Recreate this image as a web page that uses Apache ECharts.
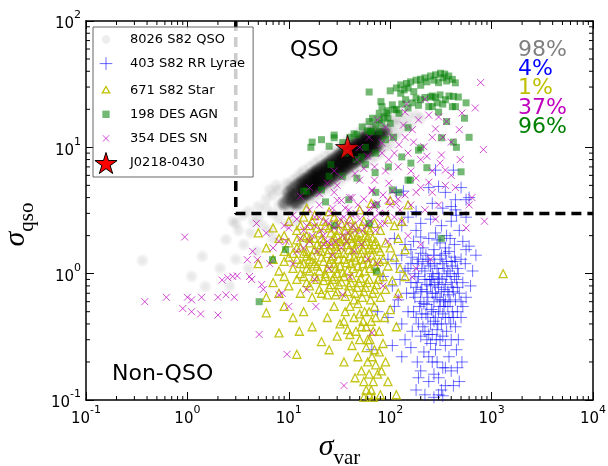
<!DOCTYPE html>
<html>
<head>
<meta charset="utf-8">
<script src="https://cdn.jsdelivr.net/npm/echarts@6/dist/echarts.min.js"></script>
<style>
html, body { margin: 0; padding: 0; background: #fff; }
#main { width: 608px; height: 466px; }
</style>
</head>
<body>
<div id="main"></div>
<script>
// sigma_var (x) / sigma_qso (y)
var qsoCore = [
    [9,3.6],[10,3.9],[10,4.4],[11,3.7],[11,4.1],[11,4.7],[12,3.6],[12,4.3],[12,5.0],[13,4.0],[13,4.5],[13,5.2],
    [14,4.0],[14,4.7],[14,5.5],[15,4.3],[15,4.85],[15,5.6],[16,4.3],[16,5.0],[16,5.9],[17,4.6],[17,5.2],[17,6.1],
    [18,4.6],[18,5.4],[18,6.3],[19,4.9],[19,5.55],[19,6.5],[20,4.9],[20,5.7],[20,6.7],[21.5,5.1],[21.5,5.95],[21.5,7.0],
    [23,5.3],[23,6.2],[23,7.2],[24.5,5.5],[24.5,6.4],[24.5,7.5],[26,5.6],[26,6.6],[26,7.8],[28,5.9],[28,6.9],[28,8.1],
    [30,6.1],[30,7.2],[30,8.4],[32,6.4],[32,7.5],[32,8.8],[34,6.6],[34,7.7],[34,9.1],[36,6.8],[36,8.0],[36,9.4],
    [38,7.0],[38,8.3],[38,9.7],[40.5,7.3],[40.5,8.55],[40.5,10],[43,7.5],[43,8.9],[43,10.4],[45.5,7.8],[45.5,9.1],[45.5,10.7],
    [48,8.0],[48,9.4],[48,11],[51,8.3],[51,9.8],[51,11.4],[54,8.6],[54,10.1],[54,11.8],[57,8.9],[57,10.4],[57,12.2],
    [60,9.1],[60,10.7],[60,12.5],[64,9.5],[64,11.1],[68,9.8],[68,11.5],[68,13.5],[72,10.1],[72,11.85],[76,10.4],[76,12.2],
    [80,12.6],[85,13],[90,13.4],
    [14,4.35],[14,5.1],[16,4.65],[16,5.45],[18,5.0],[18,5.85],[20,5.3],[20,6.2],[23,5.75],[23,6.7],[26,6.15],[26,7.2],
    [30,6.7],[30,7.8],[34,7.2],[34,8.35],[38,7.7],[38,8.95],[43,8.25],[43,9.6],[48,8.75],[48,10.2],[54,9.4],[54,10.9],
    [60,9.95],[60,11.6],[68,10.7],[68,12.4]
];
var qsoHalo = [
    [3,2.5],[3.5,2.9],[4,3.1],[4.5,2.6],[5,3.4],[5,2.8],[6,3.3],[6,3.9],[7,3.0],[7,4.2],[8,3.5],[8,4.6],[9,3.2],[9,4.1],
    [10,3.3],[10,5.0],[11,3.4],[11,5.5],[12,3.3],[12,5.8],[13,3.6],[13,6.2],[14,3.5],[14,6.6],[16,3.8],[16,7.0],[18,4.0],
    [18,7.5],[20,4.3],[20,8.0],[22,4.5],[23,8.6],[25,4.8],[26,9.2],[28,5.0],[30,9.8],[32,5.4],[34,10.5],[36,5.8],[38,11.5],
    [40,6.0],[43,12.2],[45,6.5],[48,13],[50,7],[54,14],[57,7.4],[60,15],[65,8],[68,15.5],[72,8.5],[76,16.5],[80,9],[85,17.5],
    [90,10],[95,18],[100,10.5],[105,16],[110,12],[115,17],[120,13],[130,16],[140,14.5],[150,17.5],[160,15],[180,18],
    [200,17],[125,19],[9.5,5.2],[7.5,5],[6.5,4.6],[95,12],[100,14],[110,15],[85,11],
    [0.36,1.27],[1.4,1.37],[1.5,0.79],[2.4,1.86],[2.8,2.6],[3.2,2.2],[3.6,1.7],[4.2,2.1],[4.8,1.5],[3,1.3],[2.1,1.1],
    [1.1,0.95],[5.5,2.4],[6.5,2.2],[7,1.9],[2.6,0.8],[4,1.1],[8,2.7],[10,2.5],[12,2.6]
];
var rrLyrae = [
    [280,6.6],[420,6.6],[240,4.8],[300,4.9],[350,4.4],[500,4.8],[440,3.85],[400,3.4],[560,3.85],[135,4.5],[115,4.4],[180,3.1],
    [600,4],[440,3.2],[260,3.6],[330,3.3],
    [150,2.8],[200,2.5],[250,2.7],[320,2.4],[400,2.6],[480,2.2],[560,2.8],[180,2.2],[280,2.1],[360,2.0],[450,2.9],[130,2.4],
    [110,1.9],[140,1.7],[170,1.8],[210,1.6],[240,1.9],[270,1.55],[310,1.75],[350,1.6],[390,1.9],[430,1.7],[520,1.8],[560,1.55],
    [600,1.65],[160,1.55],[200,1.95],[290,1.85],
    [95,1.3],[115,1.2],[130,1.4],[150,1.1],[165,1.35],[185,1.2],[200,1.45],[220,1.05],[235,1.3],[250,1.15],[270,1.4],[290,1.1],
    [310,1.3],[330,1.2],[350,1.45],[370,1.05],[400,1.25],[430,1.35],[460,1.1],[500,1.3],[550,1.2],[650,1.05],[700,1.4],[140,1.05],
    [260,1.0],[380,1.5],[210,1.25],
    [85,0.95],[105,0.8],[125,0.9],[145,0.7],[160,0.85],[175,0.65],[190,0.95],[205,0.75],[220,0.9],[235,0.65],[250,0.8],[265,0.95],
    [280,0.7],[295,0.85],[310,0.62],[325,0.9],[340,0.75],[360,0.95],[380,0.68],[400,0.85],[420,0.72],[450,0.9],[480,0.7],[520,0.85],
    [560,0.65],[620,0.8],[120,0.62],[200,0.6],[270,0.6],[350,0.6],[440,0.62],[230,0.82],[300,0.78],[180,0.78],
    [75,0.5],[95,0.45],[110,0.55],[130,0.4],[150,0.5],[165,0.35],[180,0.45],[195,0.55],[210,0.38],[225,0.48],[240,0.33],[255,0.52],
    [270,0.42],[285,0.3],[300,0.5],[320,0.4],[340,0.55],[360,0.35],[380,0.45],[410,0.5],[440,0.38],[470,0.3],[500,0.45],[140,0.3],
    [230,0.57],[330,0.32],[290,0.36],[200,0.32],[66,0.25],
    [105,0.27],[130,0.22],[160,0.26],[185,0.2],[200,0.17],[215,0.24],[240,0.14],[260,0.2],[280,0.25],[300,0.15],[320,0.12],
    [350,0.18],[380,0.22],[420,0.13],[480,0.14],[510,0.2],[180,0.12],[220,0.11],[270,0.105],[330,0.108],[450,0.25],[250,0.28],
    [300,0.11],[190,0.15],
    [160,1.2],[175,1.0],[190,1.3],[205,1.1],[225,1.4],[240,1.2],[255,0.9],[275,1.2],[300,1.0],[320,1.4],[340,1.1],[360,1.25],
    [390,1.0],[410,1.15],[440,1.25],[470,1.0],
    [170,0.7],[185,0.85],[200,0.72],[215,0.58],[230,0.72],[245,0.9],[260,0.7],[275,0.82],[290,0.65],[305,0.92],[320,0.72],
    [335,0.62],[350,0.82],[370,0.72],[390,0.6],[410,0.78],[430,0.95],[460,0.78],[500,0.6],
    [170,0.5],[190,0.4],[205,0.48],[220,0.35],[235,0.45],[250,0.4],[265,0.5],[280,0.45],[295,0.4],[310,0.55],[330,0.48],
    [350,0.45],[370,0.55],[395,0.4],[420,0.45],[460,0.5],[520,0.55],
    [230,0.3],[260,0.33],[310,0.3],[350,0.27],[400,0.3],[240,0.22],[290,0.2],[330,0.18],[400,0.17],[270,0.16],[350,0.13],[460,0.18]
];
var s82Star = [
    [15,3.3],[25,3.1],[50,3.2],[65,3.6],[100,3.8],[150,3.5],
    [10,2.6],[12,2.2],[14,2.8],[16,2.4],[18,2.9],[20,2.1],[22,2.6],[25,2.3],[28,2.8],[30,2.0],[33,2.5],[36,2.2],[40,2.7],[45,2.4],
    [50,2.1],[55,2.6],[60,2.3],[70,2.5],[80,2.2],[95,2.7],[110,2.4],[130,2.6],[7,2.3],[5,2.1],[9,2.0],[42,2.0],
    [6,1.6],[8,1.9],[9,1.5],[10,1.75],[11,1.45],[12,1.85],[13,1.6],[14,1.95],[15,1.5],[16,1.75],[17,1.4],[18,1.9],[20,1.6],
    [22,1.8],[24,1.45],[26,1.7],[28,1.95],[30,1.55],[32,1.8],[35,1.45],[38,1.7],[41,1.9],[44,1.55],[48,1.8],[52,1.45],[56,1.7],
    [60,1.95],[66,1.55],[72,1.8],[80,1.5],[90,1.75],[100,1.6],[120,1.9],[140,1.55],
    [5,1.2],[7,1.3],[8,1.05],[9,1.25],[10,1.35],[11,1.1],[12,1.3],[13,1.0],[14,1.2],[15,1.38],[16,1.05],[17,1.25],[19,1.15],
    [21,1.35],[23,1.0],[25,1.2],[27,1.38],[29,1.1],[31,1.3],[34,1.02],[37,1.22],[40,1.38],[43,1.1],[46,1.28],[50,1.02],[54,1.2],
    [58,1.35],[63,1.1],[68,1.25],[75,1.05],[85,1.3],[95,1.15],[110,1.35],[125,1.1],[1300,1.0],
    [6,0.65],[7,0.85],[8,0.7],[9,0.95],[10,0.8],[12,0.9],[13,0.7],[15,0.85],[17,0.65],[18,0.95],[20,0.75],[22,0.88],[24,0.68],
    [26,0.82],[28,0.95],[30,0.72],[33,0.86],[36,0.66],[39,0.8],[42,0.93],[45,0.7],[49,0.85],[53,0.65],[57,0.78],[62,0.9],
    [67,0.7],[73,0.82],[80,0.65],[90,0.75],[105,0.88],[120,0.7],[140,0.95],[85,0.95],
    [6,0.49],[8,0.34],[9,0.55],[11,0.45],[12.7,0.35],[14,0.5],[17,0.38],[21,0.29],[24,0.45],[28,0.55],[32,0.4],[36,0.5],[40,0.33],
    [44,0.45],[48,0.58],[52,0.38],[56,0.5],[60,0.3],[65,0.42],[70,0.55],[78,0.35],[88,0.45],[100,0.52],[115,0.38],[40,0.55],[30,0.32],
    [12,0.23],[25,0.25],[35,0.2],[42,0.27],[48,0.22],[52,0.17],[55,0.14],[60,0.2],[65,0.12],[70,0.25],[75,0.16],[80,0.11],
    [55,0.105],[62,0.11],[68,0.105],[115,0.11],[90,0.2],[95,0.14],[45,0.15],[85,0.28],
    [13,2.4],[15,2.0],[17,2.6],[19,2.3],[21,1.9],[23,2.4],[26,2.1],[29,2.5],[31,2.2],[34,1.9],[37,2.4],[39,2.0],[43,2.3],
    [47,1.95],[52,2.35],[57,2.0],[63,2.2],[67,1.9],
    [12,1.6],[14,1.45],[16,1.9],[18,1.55],[19,1.7],[21,1.5],[23,1.7],[25,1.55],[27,1.8],[29,1.65],[31,1.45],[33,1.7],[36,1.85],
    [39,1.55],[42,1.75],[46,1.6],[50,1.85],[54,1.55],[58,1.8],[62,1.6],[69,1.7],[76,1.6],
    [13,1.2],[15,1.1],[16,1.3],[18,1.2],[20,1.05],[22,1.25],[24,1.1],[26,1.3],[28,1.2],[30,1.0],[32,1.15],[35,1.3],[38,1.05],
    [41,1.2],[44,1.35],[48,1.15],[52,1.3],[56,1.05],[61,1.2],[66,1.4],[71,1.15],[78,1.25],
    [14,0.95],[16,0.8],[19,0.9],[21,0.7],[23,0.95],[25,0.78],[27,0.9],[29,0.68],[31,0.82],[35,0.95],[38,0.72],[41,0.85],[44,0.62],
    [47,0.78],[51,0.92],[55,0.72],[59,0.85],[64,0.62],[70,0.75],[76,0.9],
    [35,0.42],[38,0.36],[46,0.35],[50,0.48],[54,0.42],[58,0.38],[62,0.5],[68,0.35],[72,0.45],[50,0.3],[58,0.26],[63,0.3],
    [66,0.22],[72,0.19],[78,0.24],[82,0.17],[62,0.16],[68,0.14],[58,0.12]
];
var desAgn = [
    [62,27.4],[81,23],[100,28],[127,31.2],[137,28.5],[127,26.8],[145,32],[159,33],[171,27.6],[180,34],[199,34.6],[220,35.5],
    [250,36.7],[280,37.5],[313,38.6],[345,38],[378,36.7],[410,34.5],[439,32.4],[230,33],[270,34],[330,35.5],[150,29.5],[200,31],
    [300,32.5],[360,33.5],[115,29.5],
    [62,16],[78,18.6],[83,15.5],[95,19.5],[105,21.7],[122,18.6],[130,22],[142,23.8],[164,22.5],[180,24.5],[199,23.8],[220,24.8],
    [240,21],[260,25.5],[280,24.9],[310,26],[350,23.8],[380,25.5],[420,25.3],[440,21],[110,20],[150,20.5],[190,21.5],[290,22.5],
    [95,17],[330,22],
    [17,11],[16.5,10],[21,11.5],[25,10.2],[28,11.9],[28,12.5],[34,10.9],[36,9],[40,12],[44,12.8],[47,12.6],[46,8],[53,14.5],
    [57,10],[60,13.5],[64,13.3],[67,17],[66,13.3],[72,9],[72,15],[78,16.5],[78,13.3],[83,21],[87,17.4],[90,11.5],[92,18.7],
    [108,12],[115,19.8],[100,15.5],[150,14.3],[190,9.5],[200,9.9],[260,21],[300,19],[320,11.9],[420,11],[450,10],[500,6.4],
    [600,12],[540,17],[410,21],[360,16],[470,25],[560,22.5],[250,25],
    [26,7.3],[25,5.9],[34,5.9],[21,4.6],[15,4.5],[14,4.5],[23,3.7],[39,3.85],[47,5.7],[52,8.4],[57,7.3],[71,6.3],[96,7],
    [130,8.4],[160,7.5],[158,5.5],[230,6.9],[150,5.5],[105,4.6],[72,4.4],[122,4.4],[73,3.5],
    [9.3,1.55],[6.9,1.29],[5.1,0.6],[73,1.05],[62,2.5],[28,2.4],[320,1.9]
];
var desSn = [
    [0.38,0.6],[0.62,0.65],[0.94,1.95],[1.0,0.65],[1.1,0.62],[1.38,0.65],[0.9,0.53],[1.1,0.5],[1.35,0.48],[2.0,0.47],[2.0,0.65],
    [2.4,0.68],[2.9,0.65],[2.2,0.89],[2.5,0.93],[2.8,0.95],[3.1,0.96],[4.1,0.95],[4.3,0.9],[3.9,1.29],[4.9,1.29],[5.1,0.33],
    [9.6,0.23],[35,0.13],[5.4,0.82],[5.6,0.75],[8,0.68],[8.6,0.7],[4.8,2.5],[4.4,1.5],[6,2.1],[8,1.8],[9.4,1.8],[7,1.6],
    [6.5,1.2],[10,0.55],
    [10,2.3],[12,2.7],[13,1.9],[15,2.4],[16,3.2],[17,2.0],[18,2.8],[20,3.5],[21,2.2],[23,2.6],[24,1.8],[26,3.0],[28,2.3],[30,3.8],
    [32,2.7],[34,2.0],[36,3.3],[38,2.5],[40,4.0],[42,2.9],[45,2.2],[48,3.5],[50,2.7],[55,3.9],[58,2.4],[62,3.2],[66,4.5],[70,2.8],
    [75,3.6],[80,2.5],[85,4.2],[90,3.0],[100,3.5],[110,2.8],[120,3.9],[130,2.6],[14,1.6],[19,1.5],[22,1.7],[27,1.4],[33,1.6],
    [44,1.5],[52,1.7],[60,1.3],[11,1.2],[25,1.1],[18,0.9],[40,0.95],[34,0.68],[18.5,0.55],[66,0.34],[165,0.94],[180,1.1],
    [280,2.7],[560,2.3],[850,2.6],[150,2.0],[200,1.7],[250,1.3],[95,1.8],[75,1.2],[85,0.8],[120,0.65],[15,0.75],[13,4.1],
    [16,4.8],[24,5.2],[28,6.5],[20,4.3],[33,5.8],
    [780,32.6],[690,20.5],[510,18.7],[830,9.6],[480,13.8],[360,16],[300,17.4],[240,18],[190,16.5],[140,19],[135,15],[165,13.8],
    [140,12],[122,10.5],[215,10.1],[320,8.7],[310,7.5],[350,6.6],[400,6],[240,5.3],[180,5.7],[180,4.4],[260,4.4],[97,5.2],
    [120,7],[97,8],[83,9],[83,10.8],[105,12],[90,14.5],[62,12],[50,10],[47,8],[50,5.5],[42,4],[33,3.8],[66,4.6],[115,3.6],
    [70,3.4],[640,4.0],[490,8],[200,8],[440,4.8],[600,3.5],[160,6.5],[260,12],[110,9],[70,7],[38,9.5],[30,5],[60,8.5],[28,4.4],
    [145,22],[280,14],[400,11],[220,24],[75,16.5],
    [11,2.9],[14,2.2],[16,1.8],[18,2.4],[20,2.8],[22,2.0],[25,2.5],[27,3.3],[29,1.8],[31,2.4],[35,2.8],[37,1.8],[39,3.2],[43,2.4],
    [46,3.0],[53,2.2],[57,3.0],[64,2.6],[68,3.5],[72,2.2],[78,3.0],[88,2.5],[95,3.8],[105,4.5],[125,3.2],[140,4.2],[160,3.5],
    [200,4.8],[220,3.2],[300,3.5],[350,5],[150,9],[230,8.5],[170,11],[330,12],[260,6.5],[70,5.5],[90,6.5],[55,6.8],[45,6.2],
    [12,1.5],[9,2.4],[26,1.7],[38,2.1]
];
var j0218 = [[38, 10]];
// dashed selection boundary
var qsoCut = [[3, 100], [3, 3], [10000, 3]];

var legendNames = ['8026 S82 QSO', '403 S82 RR Lyrae', '671 S82 Star', '198 DES AGN', '354 DES SN', 'J0218-0430'];
var fractions = ['98%', '4%', '1%', '37%', '96%'];
var fractionColors = ['#808080', '#0000ff', '#bfbf00', '#bf00bf', '#008000'];

var xMin = 0.1, xMax = 10000, yMin = 0.1, yMax = 100;

var starPath = 'path://M50,0 L61,35 L98,35 L68,57 L79,91 L50,70 L21,91 L32,57 L2,35 L39,35 Z';
var plusPath = 'path://M5,0 L5,10 M0,5 L10,5';
var xPath = 'path://M0,0 L10,10 M0,10 L10,0';

// minor ticks at 2..9 of every decade
var xMinor = [], yMinor = [];
for (var k = -1; k < 4; k++) {
    for (var m = 2; m < 10; m++) {
        xMinor.push([m * Math.pow(10, k), 1]);
        if (k < 2) yMinor.push([1, m * Math.pow(10, k)]);
    }
}

var myChart = echarts.init(document.getElementById('main'));

function powLabel(v) {
    var e = Math.round(Math.log(v) / Math.LN10);
    return '{b|10}{s|' + e + '}';
}
var tickRich = {
    b: { fontSize: 15, fontFamily: 'DejaVu Sans', color: '#000', lineHeight: 22, verticalAlign: 'bottom' },
    s: { fontSize: 11, fontFamily: 'DejaVu Sans', color: '#000', lineHeight: 13, verticalAlign: 'top' }
};

function logAxis(pos, min, max, showLabel) {
    return {
        type: 'log', logBase: 10, position: pos, min: min, max: max,
        axisLine: { show: true, lineStyle: { color: '#000', width: 1.5 } },
        axisTick: { show: true, inside: true, length: 8, lineStyle: { color: '#000', width: 1 } },
        axisLabel: { show: showLabel, formatter: powLabel, rich: tickRich, margin: 5 },
        splitLine: { show: false }
    };
}

function minorTicks(isX) {
    return {
        type: 'custom', silent: true, clip: false, z: 6,
        data: isX ? xMinor : yMinor,
        renderItem: function (params, api) {
            var a, b;
            if (isX) {
                a = api.coord([api.value(0), yMin]);
                b = api.coord([api.value(0), yMax]);
                return { type: 'group', children: [
                    { type: 'line', shape: { x1: a[0], y1: a[1], x2: a[0], y2: a[1] - 4 }, style: { stroke: '#000', lineWidth: 1 } },
                    { type: 'line', shape: { x1: b[0], y1: b[1], x2: b[0], y2: b[1] + 4 }, style: { stroke: '#000', lineWidth: 1 } }
                ] };
            }
            a = api.coord([xMin, api.value(1)]);
            b = api.coord([xMax, api.value(1)]);
            return { type: 'group', children: [
                { type: 'line', shape: { x1: a[0], y1: a[1], x2: a[0] + 4, y2: a[1] }, style: { stroke: '#000', lineWidth: 1 } },
                { type: 'line', shape: { x1: b[0], y1: b[1], x2: b[0] - 4, y2: b[1] }, style: { stroke: '#000', lineWidth: 1 } }
            ] };
        }
    };
}

// soft round blobs so the dense QSO points merge into a smooth cloud
function softDot(alpha) {
    return {
        type: 'radial', x: 0.5, y: 0.5, r: 0.5,
        colorStops: [
            { offset: 0, color: 'rgba(0,0,0,' + alpha + ')' },
            { offset: 0.5, color: 'rgba(0,0,0,' + (alpha * 0.75) + ')' },
            { offset: 1, color: 'rgba(0,0,0,0)' }
        ]
    };
}

var nameRich = {
    i: { fontSize: 30, fontFamily: 'Liberation Serif', fontStyle: 'italic', color: '#000', lineHeight: 30, verticalAlign: 'top' },
    sub: { fontSize: 21, fontFamily: 'Liberation Serif', color: '#000', lineHeight: 37, verticalAlign: 'bottom' }
};
var xAxisBottom = logAxis('bottom', xMin, xMax, true);
xAxisBottom.name = '{i|σ}{sub|var}';
xAxisBottom.nameLocation = 'middle';
xAxisBottom.nameGap = 30;
xAxisBottom.nameTextStyle = { rich: nameRich };
var yAxisLeft = logAxis('left', yMin, yMax, true);
yAxisLeft.name = '{i|σ}{sub|qso}';
yAxisLeft.nameLocation = 'middle';
yAxisLeft.nameGap = 48;
yAxisLeft.nameRotate = 90;
yAxisLeft.nameTextStyle = { rich: nameRich, padding: [0, 28, 0, 0] };

var graphics = [
    { type: 'text', x: 290, y: 50, style: { text: 'QSO', font: '22px "DejaVu Sans"', fill: '#000', align: 'left', verticalAlign: 'middle' } },
    { type: 'text', x: 112, y: 374, style: { text: 'Non-QSO', font: '22px "DejaVu Sans"', fill: '#000', align: 'left', verticalAlign: 'middle' } }
];
for (var i = 0; i < fractions.length; i++) {
    graphics.push({ type: 'text', x: 518, y: 50.5 + i * 19.1, z: 10,
        style: { text: fractions[i], font: '22px "DejaVu Sans"', fill: fractionColors[i], align: 'left', verticalAlign: 'middle' } });
}

var option = {
    animation: false,
    backgroundColor: '#fff',
    grid: { left: 86, right: 15, top: 21, bottom: 66, containLabel: false, outerBoundsMode: 'none' },
    xAxis: [xAxisBottom, logAxis('top', xMin, xMax, false)],
    yAxis: [yAxisLeft, logAxis('right', yMin, yMax, false)],
    legend: {
        orient: 'vertical', left: 93, top: 27,
        padding: [2, 8, 3, 0],
        itemWidth: 38, itemHeight: 21, itemGap: 0.6,
        backgroundColor: 'rgba(255,255,255,0.8)',
        borderColor: '#666', borderWidth: 1,
        textStyle: { fontSize: 13, fontFamily: 'DejaVu Sans', color: '#000' },
        selectedMode: false,
        data: [
            { name: legendNames[0], icon: 'path://M0,0 M20,20 M6,10 A4,4 0 1,1 14,10 A4,4 0 1,1 6,10 Z', itemStyle: { color: 'rgba(0,0,0,0.07)', borderWidth: 0, opacity: 1 } },
            { name: legendNames[1], icon: 'path://M0,0 M20,20 M10,4 L10,16 M4,10 L16,10', itemStyle: { color: 'none', borderColor: '#0000ff', borderWidth: 1, opacity: 0.6 } },
            { name: legendNames[2], icon: 'path://M0,0 M20,20 M10,6.5 L13.5,12.5 L6.5,12.5 Z', itemStyle: { color: 'none', borderColor: '#bfbf00', borderWidth: 1.3, opacity: 1 } },
            { name: legendNames[3], icon: 'path://M0,0 M20,20 M6.5,6.5 L13.5,6.5 L13.5,13.5 L6.5,13.5 Z', itemStyle: { color: '#008000', borderWidth: 0, opacity: 0.55 } },
            { name: legendNames[4], icon: 'path://M0,0 M20,20 M7,7 L13,13 M7,13 L13,7', itemStyle: { color: 'none', borderColor: '#bf00bf', borderWidth: 1, opacity: 0.7 } },
            { name: legendNames[5], icon: starPath, itemStyle: { color: '#ff0000', borderColor: '#000', borderWidth: 1, opacity: 1 } }
        ]
    },
    graphic: graphics,
    series: [
        { name: legendNames[0], type: 'scatter', data: qsoHalo, symbol: 'circle', symbolSize: 14,
          itemStyle: { color: softDot(0.12) }, z: 2 },
        { name: legendNames[0], type: 'scatter', data: qsoCore, symbol: 'circle', symbolSize: 16,
          itemStyle: { color: softDot(0.6) }, z: 2 },
        { name: legendNames[1], type: 'scatter', data: rrLyrae, symbol: plusPath, symbolSize: 12,
          itemStyle: { color: 'none', borderColor: '#0000ff', borderWidth: 1, opacity: 0.55 }, z: 2 },
        { name: legendNames[2], type: 'scatter', data: s82Star, symbol: 'triangle', symbolSize: 8,
          itemStyle: { color: 'none', borderColor: '#bfbf00', borderWidth: 1.3, opacity: 0.9 }, z: 2 },
        { name: legendNames[3], type: 'scatter', data: desAgn, symbol: 'rect', symbolSize: 7,
          itemStyle: { color: '#008000', opacity: 0.55 }, z: 2 },
        { name: legendNames[4], type: 'scatter', data: desSn, symbol: xPath, symbolSize: 7,
          itemStyle: { color: 'none', borderColor: '#bf00bf', borderWidth: 1, opacity: 0.7 }, z: 2 },
        { type: 'line', data: qsoCut, symbol: 'none', silent: true,
          lineStyle: { color: '#000', width: 3.5, type: [10, 6] }, z: 3 },
        { name: legendNames[5], type: 'scatter', data: j0218, symbol: starPath, symbolSize: 24,
          itemStyle: { color: '#ff0000', borderColor: '#000', borderWidth: 1 }, z: 4 },
        minorTicks(true),
        minorTicks(false)
    ]
};
myChart.setOption(option);
</script>
</body>
</html>
